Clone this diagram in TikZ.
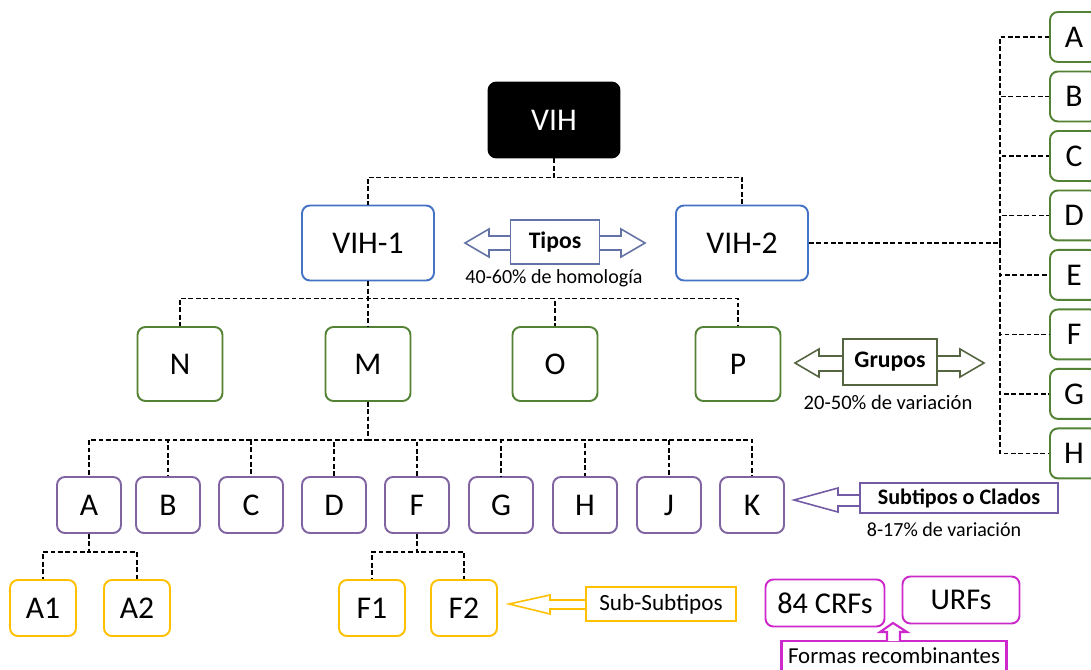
\documentclass[tikz,border=0pt]{standalone}
\usepackage{fontspec}
\setmainfont{Carlito}
\usepackage{tikz}
\usetikzlibrary{positioning}
\definecolor{vihblue}{RGB}{68,114,196}
\definecolor{grpgreen}{RGB}{84,130,53}
\definecolor{subpurple}{RGB}{128,100,162}
\definecolor{subyellow}{RGB}{255,192,0}
\definecolor{crfmagenta}{RGB}{204,40,204}
\definecolor{tiposline}{RGB}{100,115,165}
\definecolor{gruposline}{RGB}{85,100,65}
\definecolor{cladosline}{RGB}{115,90,165}

\begin{document}
\begin{tikzpicture}[x=0.02cm, y=-0.02cm, node distance=1.19cm,
  box/.style = {draw, rounded corners=4.5pt, line width=1.1pt, fill=white, inner sep=0pt, font=\fontsize{18}{21}\selectfont},
  tipo/.style = {box, draw=vihblue, minimum width=2.64cm, minimum height=1.5cm},
  grupo/.style = {box, draw=grpgreen, minimum width=1.7cm, minimum height=1.48cm},
  rgrupo/.style = {box, draw=grpgreen, minimum width=0.96cm, minimum height=1cm},
  subt/.style = {box, draw=subpurple, minimum width=1.28cm, minimum height=1.12cm},
  subsub/.style = {box, draw=subyellow, minimum width=1.32cm, minimum height=1.12cm},
  crf/.style = {box, draw=crfmagenta, minimum height=0.94cm, font=\fontsize{17.2}{20}\selectfont},
  lblbox/.style = {draw, fill=white, line width=0.9pt, inner sep=0pt},
  note/.style = {inner sep=0pt, font=\fontsize{11.4}{13}\selectfont},
  blockarrow/.style = {fill=white, line width=0.9pt, line join=miter},
  conn/.style = {line width=0.75pt, dash pattern=on 2.7pt off 1.5pt}]

\clip (0,0) rectangle (1091,669);

% types
\node[box, fill=black, text=white, minimum width=2.62cm, minimum height=1.5cm] (vih) at (554,120) {VIH};
\node[tipo] (vih1) at (368,243) {VIH-1};
\node[tipo] (vih2) at (742,243) {VIH-2};

% groups of VIH-1
\node[grupo] (n) at (180,364) {N};
\node[grupo] (m) at (368,364) {M};
\node[grupo] (o) at (555,364) {O};
\node[grupo] (p) at (738,364) {P};

% groups of VIH-2
\node[rgrupo] (r1) at (1074,37) {A};
\node[rgrupo] (r2) [below of=r1] {B};
\node[rgrupo] (r3) [below of=r2] {C};
\node[rgrupo] (r4) [below of=r3] {D};
\node[rgrupo] (r5) [below of=r4] {E};
\node[rgrupo] (r6) [below of=r5] {F};
\node[rgrupo] (r7) [below of=r6] {G};
\node[rgrupo] (r8) [below of=r7] {H};

% subtypes of M
\node[subt] (sa) at (89,505) {A};
\node[subt] (sb) at (168,505) {B};
\node[subt] (sc) at (251,505) {C};
\node[subt] (sd) at (334,505) {D};
\node[subt] (sf) at (417,505) {F};
\node[subt] (sg) at (501,505) {G};
\node[subt] (sh) at (585,505) {H};
\node[subt] (sj) at (669,505) {J};
\node[subt] (sk) at (752,505) {K};

% sub-subtypes
\node[subsub] (a1) at (43,608) {A1};
\node[subsub] (a2) at (137,608) {A2};
\node[subsub] (f1) at (372,608) {F1};
\node[subsub] (f2) at (464,608) {F2};

% recombinant forms
\node[crf, minimum width=2.38cm] (crfs) at (825,603) {84 CRFs};
\node[crf, minimum width=2.34cm] (urfs) at (961,600) {URFs};

% dashed tree
\draw[conn] (vih.south) -- ++(0,19) -| (vih1.north);
\draw[conn] (vih.south) -- ++(0,19) -| (vih2.north);
\draw[conn] (vih1.south) -- ++(0,17) -| (n.north);
\draw[conn] (vih1.south) -- ++(0,17) -| (m.north);
\draw[conn] (vih1.south) -- ++(0,17) -| (o.north);
\draw[conn] (vih1.south) -- ++(0,17) -| (p.north);
\coordinate (bus2) at (1000,243);
\draw[conn] (vih2.east) -- (bus2);
\draw[conn] (bus2) |- (r1.west);
\draw[conn] (bus2) |- (r2.west);
\draw[conn] (bus2) |- (r3.west);
\draw[conn] (bus2) |- (r4.west);
\draw[conn] (bus2) |- (r5.west);
\draw[conn] (bus2) |- (r6.west);
\draw[conn] (bus2) |- (r7.west);
\draw[conn] (bus2) |- (r8.west);
\draw[conn] (m.south) -- ++(0,38) -| (sa.north);
\draw[conn] (m.south) -- ++(0,38) -| (sb.north);
\draw[conn] (m.south) -- ++(0,38) -| (sc.north);
\draw[conn] (m.south) -- ++(0,38) -| (sd.north);
\draw[conn] (m.south) -- ++(0,38) -| (sf.north);
\draw[conn] (m.south) -- ++(0,38) -| (sg.north);
\draw[conn] (m.south) -- ++(0,38) -| (sh.north);
\draw[conn] (m.south) -- ++(0,38) -| (sj.north);
\draw[conn] (m.south) -- ++(0,38) -| (sk.north);
\draw[conn] (sa.south) -- ++(0,18) -| (a1.north);
\draw[conn] (sa.south) -- ++(0,18) -| (a2.north);
\draw[conn] (sf.south) -- ++(0,18) -| (f1.north);
\draw[conn] (sf.south) -- ++(0,18) -| (f2.north);

% Tipos
\draw[blockarrow, draw=tiposline] (465,243) -- (489,229) -- (489,236) -- (621,236) -- (621,229)
  -- (645,243) -- (621,257) -- (621,250) -- (489,250) -- (489,257) -- cycle;
\node[lblbox, draw=tiposline, minimum width=1.78cm, minimum height=0.88cm, font=\fontsize{13.5}{15}\selectfont\bfseries] (tipos) at (555,242) {Tipos};
\node[note] (tiposnote) at (554,278) {40-60\% de homología};

% Grupos
\draw[blockarrow, draw=gruposline] (795,363) -- (819,349) -- (819,356) -- (960,356) -- (960,349)
  -- (984,363) -- (960,377) -- (960,371) -- (819,371) -- (819,377) -- cycle;
\node[lblbox, draw=gruposline, minimum width=1.88cm, minimum height=0.92cm, font=\fontsize{13.5}{15}\selectfont\bfseries] (grupos) at (890,362) {Grupos};
\node[note, font=\fontsize{11.7}{13}\selectfont] (gruposnote) at (888,402) {20-50\% de variación};

% Subtipos
\draw[blockarrow, draw=cladosline] (794,500) -- (838,488) -- (838,495) -- (862,495) -- (862,506)
  -- (838,506) -- (838,512) -- cycle;
\node[lblbox, draw=cladosline, line width=1.4pt, minimum width=3.96cm, minimum height=0.6cm, font=\fontsize{12.6}{14}\selectfont\bfseries] (clados) at (959,498) {Subtipos o Clados};
\node[note] (cladosnote) at (944,530) {8-17\% de variación};

% Sub-subtipos
\draw[blockarrow, draw=subyellow] (509,604) -- (550,595) -- (550,600) -- (588,600) -- (588,609)
  -- (550,609) -- (550,614) -- cycle;
\node[lblbox, draw=subyellow, line width=1.2pt, minimum width=3cm, minimum height=0.68cm, font=\fontsize{13.2}{15}\selectfont] (subsubtipos) at (661,604) {Sub-Subtipos};

% formas recombinantes
\node[lblbox, draw=crfmagenta, line width=1.2pt, anchor=north, minimum width=4.5cm, text height=9pt, text depth=20pt, inner ysep=4pt, font=\fontsize{13}{15}\selectfont] (formas) at (894,640) {Formas recombinantes};
\draw[blockarrow, draw=crfmagenta, line width=1.2pt] (887,641) -- (887,632) -- (880,632) -- (893,623)
  -- (907,632) -- (900,632) -- (900,641);
\end{tikzpicture}
\end{document}
